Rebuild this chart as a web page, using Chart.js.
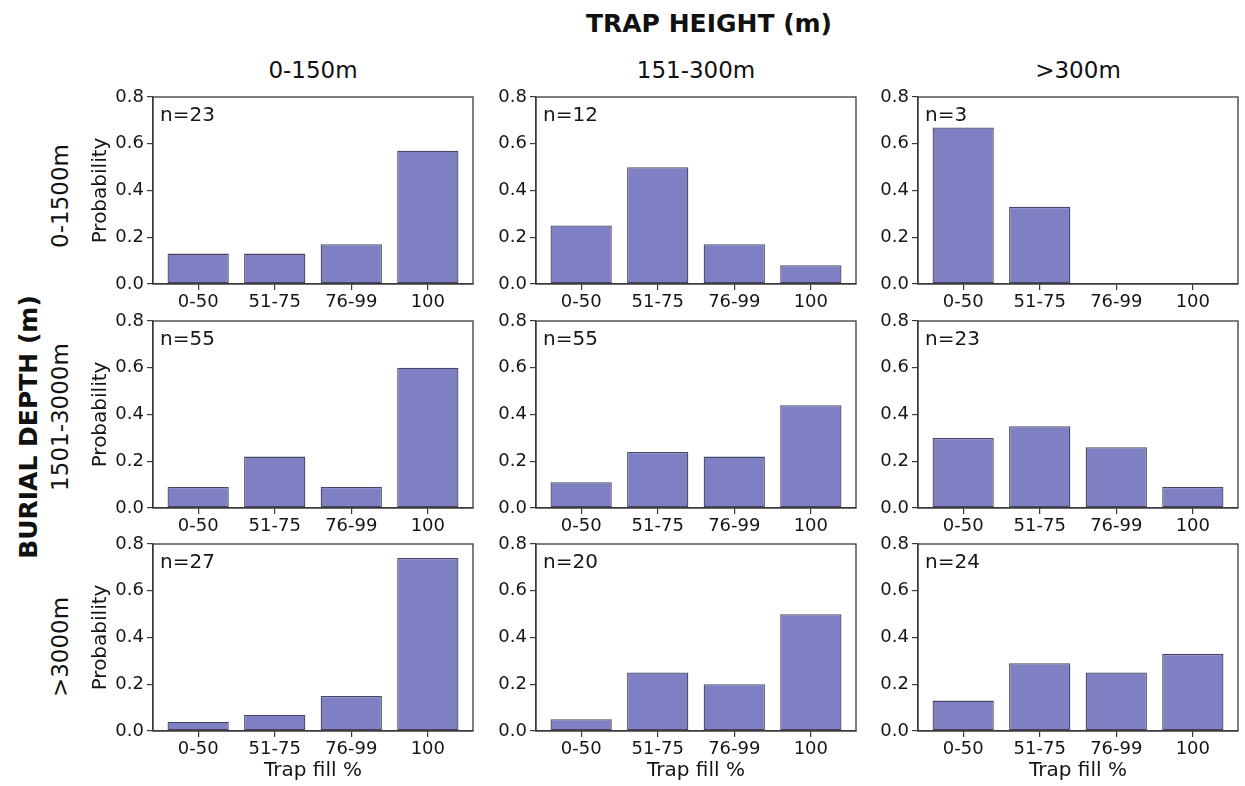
<!DOCTYPE html>
<html>
<head>
<meta charset="utf-8">
<script src="https://cdn.jsdelivr.net/npm/chart.js@4/dist/chart.umd.min.js"></script>
<style>
  html, body { margin: 0; padding: 0; background: #fff; }
  #fig { position: relative; width: 1245px; height: 786px; overflow: hidden; font-family: 'DejaVu Sans', sans-serif; color: #111; }
  .panel { position: absolute; }
  .lbl { position: absolute; white-space: nowrap; transform: translate(-50%, -50%); }
  .rot { transform: translate(-50%, -50%) rotate(-90deg); }
</style>
</head>
<body>
<div id="fig"></div>
<script>
// ---- datos ----
const fillBins = ['0-50', '51-75', '76-99', '100'];
const heightClasses = ['0-150m', '151-300m', '>300m'];
const depthClasses = ['0-1500m', '1501-3000m', '>3000m'];

// n por panel (fila = profundidad, columna = altura de trampa)
const nDepth0to1500 = [23, 12, 3];
const nDepth1501to3000 = [55, 55, 23];
const nDepthOver3000 = [27, 20, 24];

// probabilidades por panel
const probDepth0to1500 = [
    [0.13, 0.13, 0.17, 0.57],
    [0.25, 0.50, 0.17, 0.08],
    [0.67, 0.33, 0.00, 0.00]
];
const probDepth1501to3000 = [
    [0.09, 0.22, 0.09, 0.60],
    [0.11, 0.24, 0.22, 0.44],
    [0.30, 0.35, 0.26, 0.09]
];
const probDepthOver3000 = [
    [0.04, 0.07, 0.15, 0.74],
    [0.05, 0.25, 0.20, 0.50],
    [0.13, 0.29, 0.25, 0.33]
];

const probRows = [probDepth0to1500, probDepth1501to3000, probDepthOver3000];
const nRows = [nDepth0to1500, nDepth1501to3000, nDepthOver3000];

// ---- maquetación ----
const plotLeft = [153, 536, 918];
const plotTop = [97, 321, 544];
const plotW = 320, plotH = 187;
const axisW = 70, axisH = 52, padTop = 15, padRight = 10;

const BAR_FILL = '#7f7fc4';
const BAR_EDGE = '#474764';
const SPINE = '#3a3a3a';
const TXT = '#161616';

Chart.defaults.font.family = "'DejaVu Sans', sans-serif";
Chart.defaults.color = TXT;

const fig = document.getElementById('fig');

function addLabel(text, x, y, size, bold, rotated) {
    const d = document.createElement('div');
    d.className = 'lbl' + (rotated ? ' rot' : '');
    d.textContent = text;
    d.style.left = x + 'px';
    d.style.top = y + 'px';
    d.style.fontSize = size + 'px';
    if (bold) d.style.fontWeight = 'bold';
    fig.appendChild(d);
}

// marco completo + anotación n=
const framePlugin = {
    id: 'frame',
    afterDraw(chart, args, opts) {
        const { ctx, chartArea: a } = chart;
        ctx.save();
        ctx.strokeStyle = SPINE;
        ctx.lineWidth = 1.3;
        ctx.strokeRect(a.left, a.top, a.right - a.left, a.bottom - a.top);
        ctx.fillStyle = TXT;
        ctx.font = "20px 'DejaVu Sans', sans-serif";
        ctx.textBaseline = 'alphabetic';
        ctx.textAlign = 'left';
        ctx.fillText('n=' + opts.n, a.left + 7, a.top + 24);
        ctx.restore();
    }
};

addLabel('TRAP HEIGHT (m)', 709, 23, 25, true, false);
addLabel('BURIAL DEPTH (m)', 28, 427, 25, true, true);
heightClasses.forEach((h, c) => addLabel(h, plotLeft[c] + plotW / 2, 70, 23, false, false));
const rowLabelY = [196, 417, 647];
depthClasses.forEach((d, r) => addLabel(d, 60, rowLabelY[r], 23, false, true));

for (let r = 0; r < 3; r++) {
    for (let c = 0; c < 3; c++) {
        const wrap = document.createElement('div');
        wrap.className = 'panel';
        const w = axisW + plotW + padRight;
        const h = padTop + plotH + axisH;
        wrap.style.left = (plotLeft[c] - axisW) + 'px';
        wrap.style.top = (plotTop[r] - padTop) + 'px';
        wrap.style.width = w + 'px';
        wrap.style.height = h + 'px';
        const cv = document.createElement('canvas');
        cv.width = w; cv.height = h;
        cv.style.width = w + 'px'; cv.style.height = h + 'px';
        wrap.appendChild(cv);
        fig.appendChild(wrap);

        const vals = probRows[r][c];
        new Chart(cv, {
            type: 'bar',
            data: {
                datasets: [{
                    data: vals.map((v, i) => ({ x: i, y: v })),
                    backgroundColor: BAR_FILL,
                    borderColor: BAR_EDGE,
                    borderWidth: 1.3,
                    borderSkipped: false,
                    categoryPercentage: 1.0,
                    barPercentage: 0.8
                }]
            },
            options: {
                responsive: false,
                animation: false,
                devicePixelRatio: 1,
                layout: { padding: { top: padTop, right: padRight, left: 0, bottom: 0 } },
                plugins: {
                    legend: { display: false },
                    tooltip: { enabled: false },
                    frame: { n: nRows[r][c] }
                },
                scales: {
                    x: {
                        type: 'linear',
                        offset: false,
                        min: -0.59,
                        max: 3.59,
                        afterBuildTicks: (ax) => { ax.ticks = fillBins.map((_, i) => ({ value: i })); },
                        afterFit: (ax) => { ax.height = axisH; },
                        ticks: {
                            font: { size: 18 },
                            color: TXT,
                            padding: 2,
                            maxRotation: 0,
                            autoSkip: false,
                            callback: (v) => fillBins[v]
                        },
                        grid: { offset: false, drawOnChartArea: false, drawTicks: true, tickLength: 6, color: SPINE, lineWidth: 1.2 },
                        border: { display: true, color: SPINE, width: 1.3 },
                        title: {
                            display: r === 2,
                            text: 'Trap fill %',
                            font: { size: 20 },
                            color: TXT,
                            padding: { top: 0, bottom: 0 }
                        }
                    },
                    y: {
                        min: 0,
                        max: 0.8,
                        afterFit: (ax) => { ax.width = axisW; },
                        ticks: {
                            stepSize: 0.2,
                            font: { size: 18 },
                            color: TXT,
                            padding: 3,
                            callback: (v) => v.toFixed(1)
                        },
                        grid: { drawOnChartArea: false, drawTicks: true, tickLength: 6, color: SPINE, lineWidth: 1.2 },
                        border: { display: true, color: SPINE, width: 1.3 },
                        title: {
                            display: c === 0,
                            text: 'Probability',
                            font: { size: 20 },
                            color: TXT,
                            padding: { top: 6, bottom: 0 }
                        }
                    }
                }
            },
            plugins: [framePlugin]
        });
    }
}
</script>
</body>
</html>
